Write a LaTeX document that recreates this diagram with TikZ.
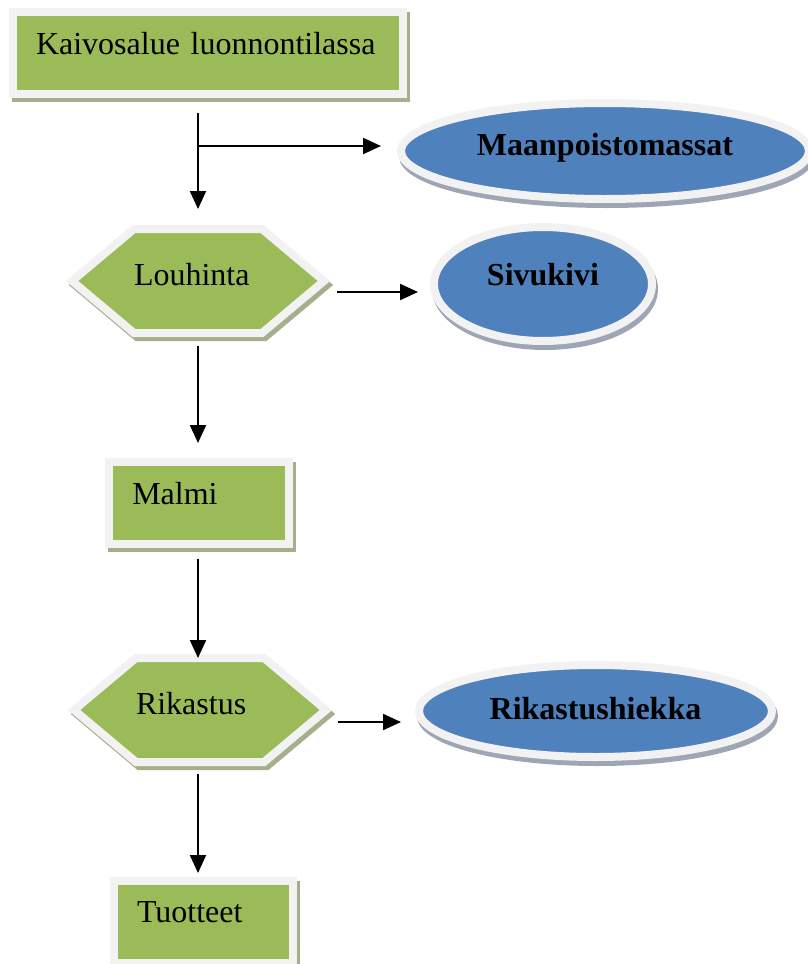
\documentclass[tikz,border=0pt]{standalone}
\usepackage{fontspec}
\setmainfont{Liberation Serif}
\usetikzlibrary{shapes.geometric,shapes.symbols,shadows,arrows.meta}

\definecolor{boxgreen}{HTML}{9BBB59}
\definecolor{boxedge}{HTML}{F2F2F2}
\definecolor{greenshade}{HTML}{A5AF8C}
\definecolor{ovalblue}{HTML}{4F81BD}
\definecolor{blueshade}{HTML}{9EA6B5}

\tikzset{
  stage/.style={rectangle, draw=boxedge, line width=4pt, fill=boxgreen,
    inner xsep=11.5pt, inner ysep=0pt, text height=21pt, text depth=20pt,
    align=left, font=\fontsize{16}{19}\selectfont,
    drop shadow={shadow xshift=1.5pt, shadow yshift=-2pt, opacity=1,
      fill=greenshade, draw=greenshade}},
  process/.style={signal, signal to=east and west, signal pointer angle=80,
    draw=boxedge, line width=4pt, fill=boxgreen, inner sep=0pt,
    minimum width=121.5pt, minimum height=52pt,
    text width=64pt, align=left, text height=10pt, text depth=6pt,
    font=\fontsize{16}{19}\selectfont,
    drop shadow={shadow xshift=1.5pt, shadow yshift=-2pt, opacity=1,
      fill=greenshade, draw=greenshade}},
  waste/.style={ellipse, draw=boxedge, line width=4pt, fill=ovalblue,
    inner sep=0pt, text height=10pt, text depth=6pt,
    font=\fontsize{16}{19}\selectfont\bfseries,
    drop shadow={shadow xshift=1pt, shadow yshift=-2.5pt, opacity=1,
      fill=blueshade, draw=blueshade}},
  flow/.style={-{Triangle[length=9pt,width=8pt]}, line width=1.1pt},
}

\begin{document}
\begin{tikzpicture}[x=0.5pt, y=-0.5pt]
	\useasboundingbox (0,0) rectangle (808,964);
	
	% Draw nodes, the main line
	\node[stage, text width=172pt] (kaivos) at (208,53) {Kaivosalue luonnontilassa};
	\node[process] (louhinta) at (198,281) {Louhinta};
	\node[stage, text width=67pt] (malmi) at (199.25,503) {Malmi};
	\node[process] (rikastus) at (200,710) {Rikastus};
	\node[stage, text width=66.5pt] (tuotteet) at (203.5,921.5) {Tuotteet};
	
	% Draw nodes, what is left over
	\node[waste, minimum width=204pt, minimum height=48pt] (maan) at (605,151) {Maanpoistomassat};
	\node[waste, minimum width=109pt, minimum height=57pt, text depth=9pt] (sivukivi) at (543,284) {Sivukivi};
	\node[waste, minimum width=176.5pt, minimum height=46pt, text depth=2pt] (hiekka) at (595.5,711) {Rikastushiekka};
	
	% Draw arrows down the main line
	\draw[flow, shorten <=7.5pt, shorten >=8pt] (kaivos.south -| louhinta.north) to (louhinta.north);
	\draw[flow, shorten <=4.5pt, shorten >=7.5pt] (louhinta.south) to (louhinta.south |- malmi.north);
	\draw[flow, shorten <=5.5pt, shorten >=-2pt] (malmi.south -| louhinta.south) to (rikastus.north -| louhinta.south);
	\draw[flow, shorten <=4pt, shorten >=1.75pt] (rikastus.south -| louhinta.south) to (tuotteet.north -| louhinta.south);
	
	% Draw arrows to the side
	\coordinate (branch) at (198,146);
	\coordinate (louhinta out) at ([yshift=-5.5pt]louhinta.east);
	\coordinate (rikastus out) at ([yshift=-6pt]rikastus.east);
	\draw[flow, shorten >=8pt] (branch) to (branch -| maan.west);
	\draw[flow, shorten <=3.5pt, shorten >=6pt] (louhinta out) to (louhinta out -| sivukivi.west);
	\draw[flow, shorten <=3pt, shorten >=7pt] (rikastus out) to (rikastus out -| hiekka.west);
	
\end{tikzpicture}
\end{document}
